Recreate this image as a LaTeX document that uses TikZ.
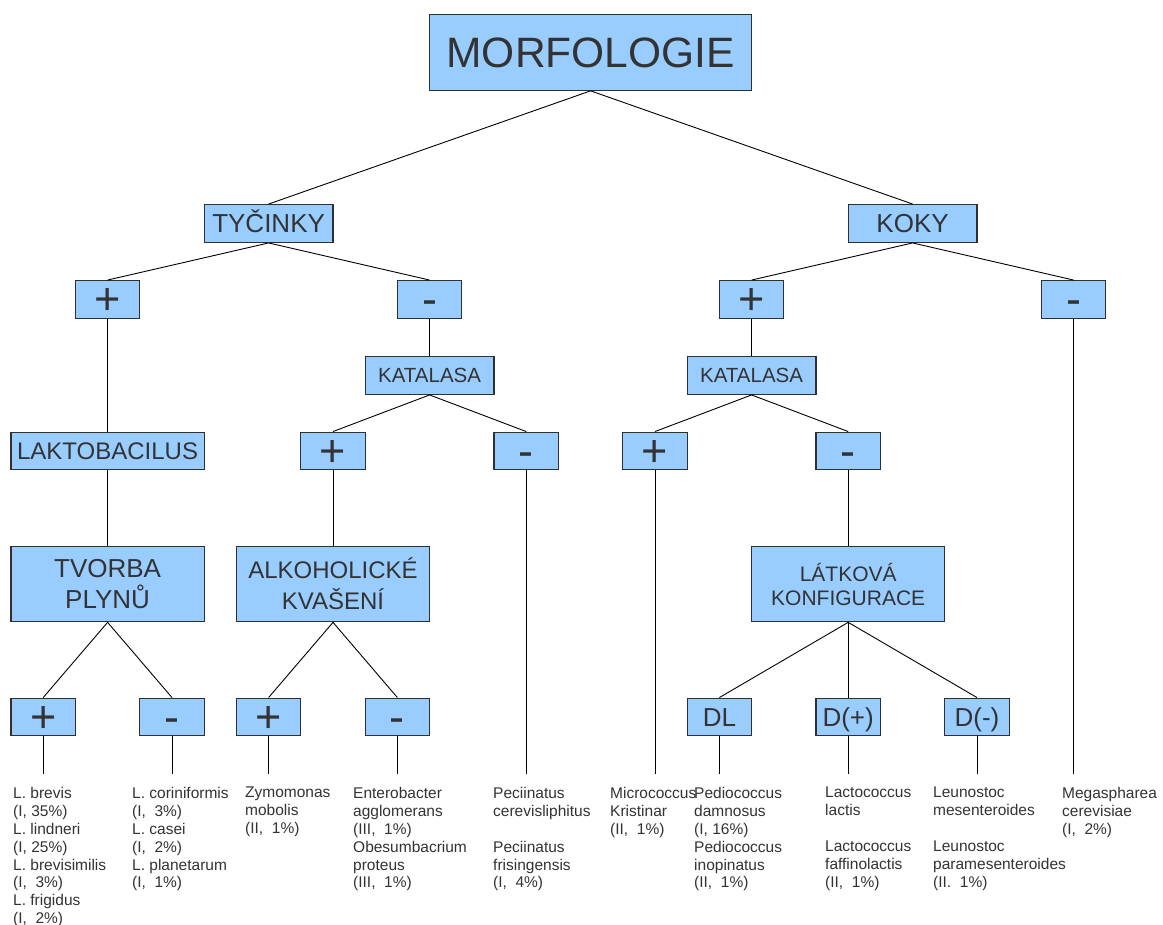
\documentclass[tikz,border=0pt]{standalone}
\usepackage{fontspec}
\setmainfont{Liberation Sans}
\definecolor{boxfill}{HTML}{99CCFF}
\definecolor{boxline}{HTML}{303030}
\definecolor{ink}{HTML}{333333}
\tikzset{
  x=1pt, y=-1pt,
  box/.style={draw=boxline, line width=1.1pt, fill=boxfill, text=ink, inner sep=0pt, anchor=center},
  % single-line label at a given size: cap height set explicitly so caps sit centred
  caps/.style={font=\fontsize{#1}{#1}\selectfont, text height=0.716*#1pt, text depth=0pt},
  sm/.style={box, minimum width=64.4pt, minimum height=37.8pt},
  md/.style={box, minimum width=128.8pt, minimum height=37.8pt},
  lg/.style={box, minimum width=193.2pt, minimum height=37.8pt},
  big/.style={box, minimum width=193.2pt, minimum height=75.6pt, align=center},
  sign/.style={sm, font=\fontsize{45}{45}\selectfont, text height=31pt, text depth=0pt},
  edge/.style={draw=black, line width=0.9pt},
  leaf/.style={anchor=north west, inner sep=0pt, align=left, text=ink, font=\fontsize{15.5}{17.9}\selectfont},
}
\begin{document}
\begin{tikzpicture}
\useasboundingbox[fill=white] (0,0) rectangle (1163,925);

% root
\node[box, caps=42.5, minimum width=322pt, minimum height=75.6pt] (morf) at (590.6,52.5) {MORFOLOGIE};

% second level
\node[md, caps=26] (tyc) at (268.6,223.5) {TYČINKY};
\node[md, caps=26] (koky) at (912.6,223.5) {KOKY};

% gram staining
\node[sign] (tp) at (107.6,299.5) {+};
\node[sign] (tm) at (429.6,299.5) {-};
\node[sign] (kp) at (751.6,299.5) {+};
\node[sign] (km) at (1073.6,299.5) {-};

% catalase tests
\node[md, caps=20.5] (katl) at (429.6,375.5) {KATALASA};
\node[md, caps=20.5] (katr) at (751.6,375.5) {KATALASA};

% fourth row
\node[lg, caps=24] (lakto) at (107.6,451) {LAKTOBACILUS};
\node[sign] (klp) at (333,451) {+};
\node[sign] (klm) at (526.2,451) {-};
\node[sign] (krp) at (655,451) {+};
\node[sign] (krm) at (848.2,451) {-};

% large boxes
\node[big, font=\fontsize{26}{31}\selectfont] (tvorba) at (107.6,584) {TVORBA\\PLYNŮ};
\node[big, font=\fontsize{24}{31}\selectfont] (alko) at (333,584) {ALKOHOLICKÉ\\KVAŠENÍ};
\node[big, font=\fontsize{21}{24}\selectfont] (latk) at (848.2,584) {LÁTKOVÁ\\KONFIGURACE};

% bottom row
\node[sign] (b1) at (43.2,717) {+};
\node[sign] (b2) at (172,717) {-};
\node[sign] (b3) at (268.6,717) {+};
\node[sign] (b4) at (397.4,717) {-};
\node[sm, caps=26] (b5) at (719.4,717) {DL};
\node[sm, caps=26] (b6) at (848.2,717) {D(+)};
\node[sm, caps=26] (b7) at (977,717) {D(-)};

% tree connectors
\draw[edge] (morf.south) -- (tyc.north);
\draw[edge] (morf.south) -- (koky.north);
\draw[edge] (tyc.south) -- (tp.north);
\draw[edge] (tyc.south) -- (tm.north);
\draw[edge] (koky.south) -- (kp.north);
\draw[edge] (koky.south) -- (km.north);
\draw[edge] (tp.south) -- (lakto.north);
\draw[edge] (lakto.south) -- (tvorba.north);
\draw[edge] (tm.south) -- (katl.north);
\draw[edge] (katl.south) -- (klp.north);
\draw[edge] (katl.south) -- (klm.north);
\draw[edge] (klp.south) -- (alko.north);
\draw[edge] (kp.south) -- (katr.north);
\draw[edge] (katr.south) -- (krp.north);
\draw[edge] (katr.south) -- (krm.north);
\draw[edge] (krm.south) -- (latk.north);
\draw[edge] (tvorba.south) -- (b1.north);
\draw[edge] (tvorba.south) -- (b2.north);
\draw[edge] (alko.south) -- (b3.north);
\draw[edge] (alko.south) -- (b4.north);
\draw[edge] (latk.south) -- (b5.north);
\draw[edge] (latk.south) -- (b6.north);
\draw[edge] (latk.south) -- (b7.north);

% drop lines to the species lists
\coordinate (e1) at (43.2,774);
\coordinate (e2) at (172,774);
\coordinate (e3) at (268.6,774);
\coordinate (e4) at (397.4,774);
\coordinate (e5) at (526.2,774);
\coordinate (e6) at (655,774);
\coordinate (e7) at (719.4,774);
\coordinate (e8) at (848.2,774);
\coordinate (e9) at (977,774);
\coordinate (e10) at (1073.6,774);
\draw[edge] (b1.south) -- (e1);
\draw[edge] (b2.south) -- (e2);
\draw[edge] (b3.south) -- (e3);
\draw[edge] (b4.south) -- (e4);
\draw[edge] (klm.south) -- (e5);
\draw[edge] (krp.south) -- (e6);
\draw[edge] (b5.south) -- (e7);
\draw[edge] (b6.south) -- (e8);
\draw[edge] (b7.south) -- (e9);
\draw[edge] (km.south) -- (e10);

% species lists
\node[leaf] (s1) at (13,787) {L. brevis\\(I, 35\%)\\L. lindneri\\(I, 25\%)\\L. brevisimilis\\(I, \ 3\%)\\L. frigidus\\(I, \ 2\%)};
\node[leaf] (s2) at (132,787) {L. coriniformis\\(I, \ 3\%)\\L. casei\\(I, \ 2\%)\\L. planetarum\\(I, \ 1\%)};
\node[leaf] (s3) at (245,787) {Zymomonas\\mobolis\\(II, \ 1\%)};
\node[leaf] (s4) at (353,787) {Enterobacter\\agglomerans\\(III, \ 1\%)\\Obesumbacrium\\proteus\\(III, \ 1\%)};
\node[leaf] (s5) at (493,787) {Peciinatus\\cerevisliphitus\\[17.9pt]Peciinatus\\frisingensis\\(I, \ 4\%)};
\node[leaf] (s6) at (610,787) {Micrococcus\\Kristinar\\(II, \ 1\%)};
\node[leaf] (s7) at (694,787) {Pediococcus\\damnosus\\(I, 16\%)\\Pediococcus\\inopinatus\\(II, \ 1\%)};
\node[leaf] (s8) at (825,787) {Lactococcus\\lactis\\[17.9pt]Lactococcus\\faffinolactis\\(II, \ 1\%)};
\node[leaf] (s9) at (933,787) {Leunostoc\\mesenteroides\\[17.9pt]Leunostoc\\paramesenteroides\\(II. \ 1\%)};
\node[leaf] (s10) at (1062,787) {Megaspharea\\cerevisiae\\(I, \ 2\%)};
\end{tikzpicture}
\end{document}
